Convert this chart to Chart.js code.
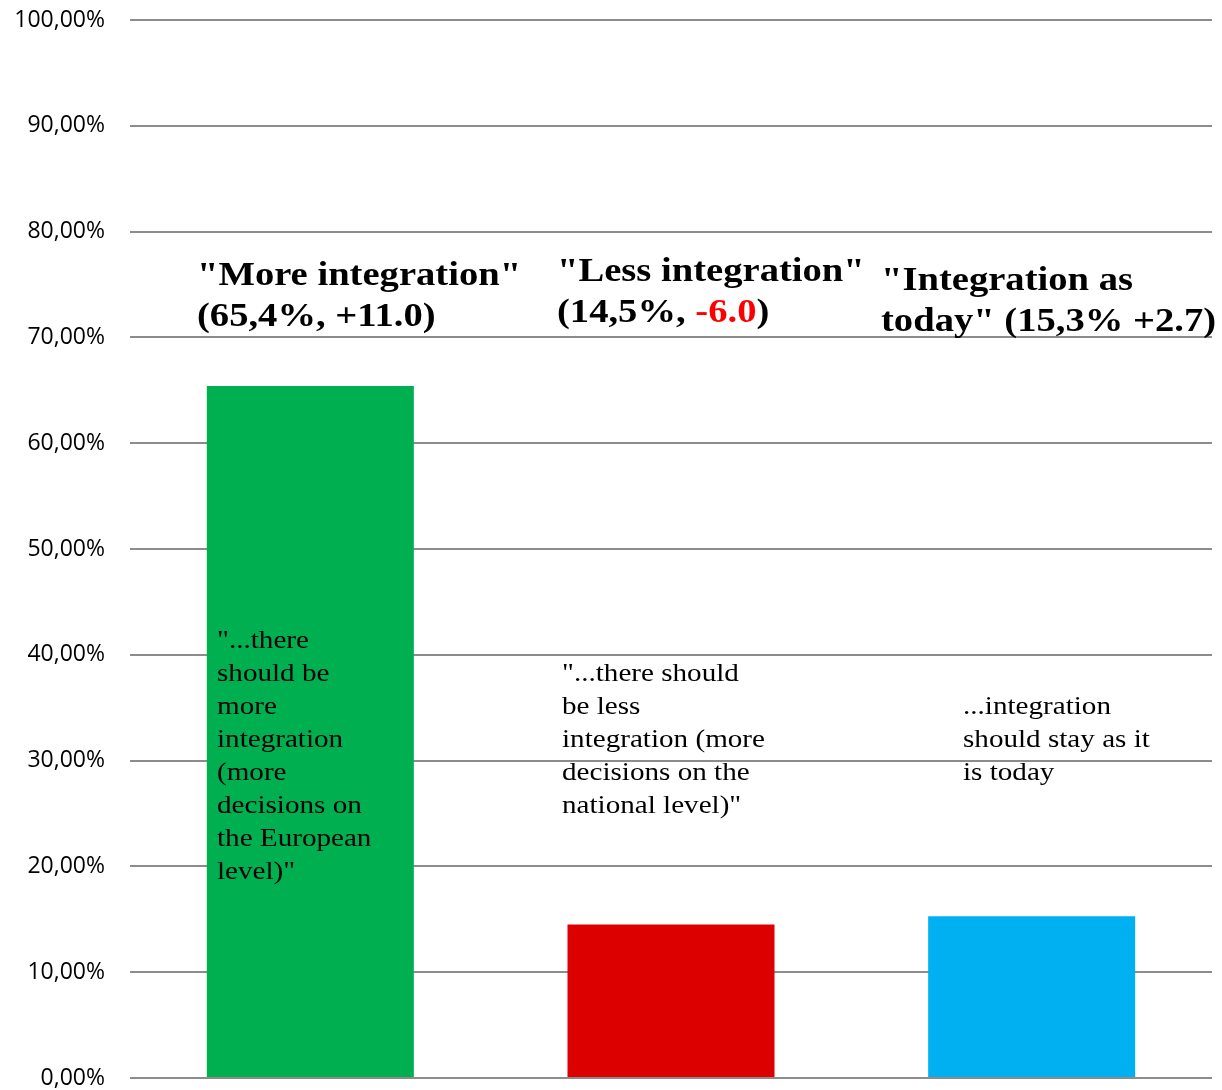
<!DOCTYPE html>
<html>
<head>
<meta charset="utf-8">
<script src="https://cdn.jsdelivr.net/npm/chart.js@4/dist/chart.umd.min.js"></script>
<style>
  html, body { margin: 0; padding: 0; background: #fff; overflow: hidden; }
  #wrap { width: 1222px; height: 1090px; position: relative; }
</style>
</head>
<body>
<div id="wrap"><canvas id="chart"></canvas></div>
<script>
const categories = ['More integration', 'Less integration', 'Integration as today'];
const shares = [65.4, 14.5, 15.3];
const barColors = ['#00B050', '#DD0000', '#00B0F0'];
const yTicks = [0, 10, 20, 30, 40, 50, 60, 70, 80, 90, 100];

// headline per bar: lines of [text, colour] runs
const headlines = [
  [[['"More integration"', '#000']], [['(65,4%, +11.0)', '#000']]],
  [[['"Less integration"', '#000']], [['(14,5%, ', '#000'], ['-6.0', '#FF0000'], [')', '#000']]],
  [[['"Integration as', '#000']], [['today" (15,3% +2.7)', '#000']]]
];
const headlineAt = [[197, 74.95], [557, 75.3], [881, 74.5]]; // [x px, y value of first baseline]

const quotes = [
  ['"...there', 'should be', 'more', 'integration', '(more', 'decisions on', 'the European', 'level)"'],
  ['"...there should', 'be less', 'integration (more', 'decisions on the', 'national level)"'],
  ['...integration', 'should stay as it', 'is today']
];
const quoteAt = [[217, 40.6], [562, 37.5], [963, 34.4]];

const fmt = v => v.toFixed(2).replace('.', ',') + '%';

function drawLines(ctx, lines, x0, base, step, sx) {
  lines.forEach(runs => {
    let x = x0;
    runs.forEach(([t, c]) => {
      ctx.save();
      ctx.translate(x, base);
      ctx.scale(sx, 1);
      ctx.fillStyle = c;
      ctx.fillText(t, 0, 0);
      ctx.restore();
      x += ctx.measureText(t).width * sx;
    });
    base += step;
  });
}

const textPlugin = {
  id: 'texts',
  afterDatasetsDraw(chart) {
    const ctx = chart.ctx, y = chart.scales.y;
    ctx.save();
    ctx.textBaseline = 'alphabetic';
    ctx.textAlign = 'left';
    ctx.font = 'bold 33px "Liberation Serif", serif';
    headlines.forEach((lines, i) => {
      drawLines(ctx, lines, headlineAt[i][0], y.getPixelForValue(headlineAt[i][1]), 41, 1.17);
    });
    ctx.font = '26px "Liberation Serif", serif';
    quotes.forEach((lines, i) => {
      drawLines(ctx, lines.map(t => [[t, '#000']]), quoteAt[i][0], y.getPixelForValue(quoteAt[i][1]), 33, 1.12);
    });
    ctx.restore();
  }
};

new Chart(document.getElementById('chart'), {
  type: 'bar',
  data: {
    labels: categories,
    datasets: [{ data: shares, backgroundColor: barColors, borderWidth: 0, categoryPercentage: 1, barPercentage: 0.574 }]
  },
  options: {
    responsive: true,
    maintainAspectRatio: false,
    animation: false,
    layout: { padding: { top: 20, right: 10, bottom: 12, left: 0 } },
    plugins: { legend: { display: false }, tooltip: { enabled: false } },
    scales: {
      x: { display: false, grid: { display: false } },
      y: {
        min: 0, max: 100,
        afterBuildTicks: s => { s.ticks = yTicks.map(v => ({ value: v })); },
        afterFit: s => { s.width = 130; s.paddingTop = 0; s.paddingBottom = 0; },
        border: { display: false },
        grid: { color: '#8C8C8C', lineWidth: 2, drawTicks: false },
        ticks: { color: '#000', padding: 25, font: { family: '"Open Sans", sans-serif', size: 23 }, callback: v => fmt(v) }
      }
    }
  },
  plugins: [textPlugin]
});
</script>
</body>
</html>
